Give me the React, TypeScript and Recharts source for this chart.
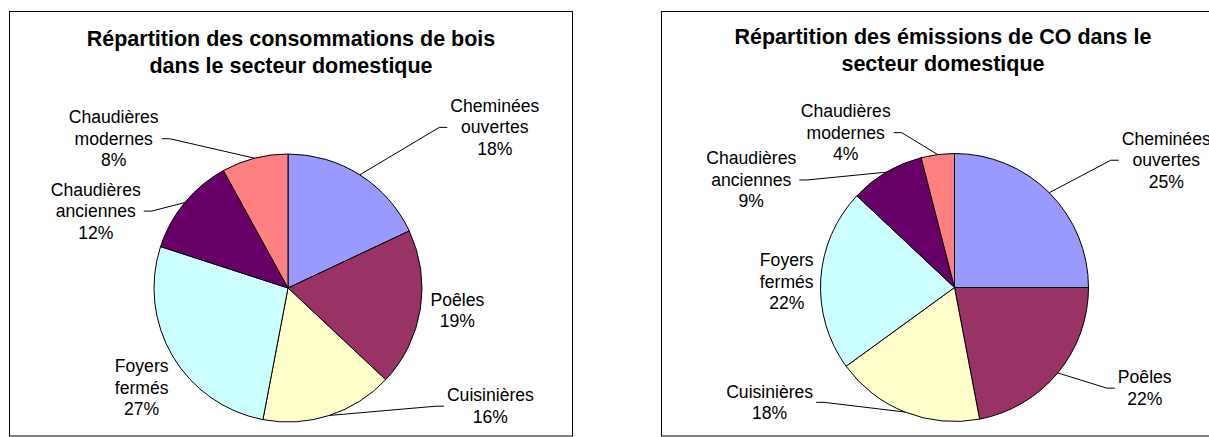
import { PieChart, Pie, Cell } from 'recharts';

// Wood use and CO emissions in the domestic sector, by appliance type (%)
const categories = [
  'Cheminées ouvertes',
  'Poêles',
  'Cuisinières',
  'Foyers fermés',
  'Chaudières anciennes',
  'Chaudières modernes',
];
const woodShares = [18, 19, 16, 27, 12, 8];
const coShares = [25, 22, 18, 22, 9, 4];

const woodTitle = ['Répartition des consommations de bois', 'dans le secteur domestique'];
const coTitle = ['Répartition des émissions de CO dans le', 'secteur domestique'];

const COLORS = ['#9999FF', '#993366', '#FFFFCC', '#CCFFFF', '#660066', '#FF8080'];

const FONT = '"Liberation Sans", Arial, sans-serif';
const LABEL_SIZE = 17.6;
const LINE = 21.5;

type Placement = { dx: number; dy: number; leader?: 'left' | 'right' };

// label offsets from the slice edge point (Excel "best fit" look)
const woodPlacement: Placement[] = [
  { dx: 135, dy: -63, leader: 'left' },
  { dx: 37, dy: -3 },
  { dx: 161, dy: -14, leader: 'left' },
  { dx: -31, dy: 16 },
  { dx: -89, dy: -7, leader: 'right' },
  { dx: -141, dy: -35, leader: 'right' },
];
const coPlacement: Placement[] = [
  { dx: 117, dy: -48, leader: 'left' },
  { dx: 87, dy: 10.5, leader: 'left' },
  { dx: -135.5, dy: -14.5, leader: 'right' },
  { dx: -34, dy: -13 },
  { dx: -135, dy: -7.7, leader: 'right' },
  { dx: -92, dy: -37.4, leader: 'right' },
];

let ctx: CanvasRenderingContext2D | null = null;
function textWidth(s: string) {
  if (!ctx) ctx = document.createElement('canvas').getContext('2d');
  if (!ctx) return s.length * LABEL_SIZE * 0.55;
  ctx.font = `${LABEL_SIZE}px ${FONT}`;
  return ctx.measureText(s).width;
}

function makeLabel(placement: Placement[]) {
  return (props: any) => {
    const { cx, cy, midAngle, outerRadius, percent, index } = props;
    const name: string = props.payload?.name ?? props.name;
    const rad = Math.PI / 180;
    const ex = cx + outerRadius * Math.cos(-midAngle * rad);
    const ey = cy + outerRadius * Math.sin(-midAngle * rad);
    const p = placement[index];
    const lx = ex + p.dx;
    const ly = ey + p.dy;
    const lines = [...name.split(' '), `${Math.round(percent * 100)}%`];
    const half = Math.max(...lines.map(textWidth)) / 2;

    let leader = null;
    if (p.leader) {
      const my = ly - 6 + ((lines.length - 1) * LINE) / 2;
      const sx = p.leader === 'left' ? lx - half - 3 : lx + half + 3;
      const tx = p.leader === 'left' ? sx - 8 : sx + 8;
      leader = (
        <polyline
          points={`${sx},${my} ${tx},${my} ${ex},${ey}`}
          fill="none"
          stroke="#000"
          strokeWidth={1}
        />
      );
    }

    return (
      <g key={`label-${index}`}>
        {leader}
        <text
          x={lx}
          y={ly}
          textAnchor="middle"
          fill="#000"
          style={{ fontFamily: FONT, fontSize: LABEL_SIZE }}
        >
          {lines.map((l, i) => (
            <tspan key={i} x={lx} dy={i === 0 ? 0 : LINE}>
              {l}
            </tspan>
          ))}
        </text>
      </g>
    );
  };
}

function SharePie({
  values,
  placement,
  cx,
  cy,
}: {
  values: number[];
  placement: Placement[];
  cx: number;
  cy: number;
}) {
  const data = categories.map((name, i) => ({ name, value: values[i] }));
  return (
    <PieChart width={564} height={425} margin={{ top: 0, right: 0, bottom: 0, left: 0 }}>
      <Pie
        data={data}
        dataKey="value"
        nameKey="name"
        cx={cx}
        cy={cy}
        outerRadius={134}
        startAngle={90}
        endAngle={-270}
        stroke="#000"
        strokeWidth={1}
        labelLine={false}
        label={makeLabel(placement)}
        isAnimationActive={false}
      >
        {data.map((_, i) => (
          <Cell key={`cell-${i}`} fill={COLORS[i]} />
        ))}
      </Pie>
    </PieChart>
  );
}

export default function App() {
  const titleStyle = { fontFamily: FONT, fontSize: 21.5, fontWeight: 700 } as const;
  return (
    <div
      style={{
        position: 'absolute',
        left: 0,
        top: 0,
        width: 1209,
        height: 437,
        overflow: 'hidden',
        background: '#fff',
      }}
    >
      <div style={{ position: 'absolute', left: 9, top: 11 }}>
        <SharePie values={woodShares} placement={woodPlacement} cx={279} cy={277} />
      </div>
      <div style={{ position: 'absolute', left: 661, top: 11 }}>
        <SharePie values={coShares} placement={coPlacement} cx={293.5} cy={276.5} />
      </div>
      <svg
        width={1209}
        height={437}
        style={{ position: 'absolute', left: 0, top: 0, pointerEvents: 'none' }}
      >
        <rect x={9.5} y={11.5} width={563} height={424.5} fill="none" stroke="#000" />
        <rect x={661.5} y={11.5} width={563} height={424.5} fill="none" stroke="#000" />
        <text x={291} y={46} textAnchor="middle" style={titleStyle}>
          <tspan x={291}>{woodTitle[0]}</tspan>
          <tspan x={291} dy={27}>{woodTitle[1]}</tspan>
        </text>
        <text x={943} y={44} textAnchor="middle" style={titleStyle}>
          <tspan x={943}>{coTitle[0]}</tspan>
          <tspan x={943} dy={27}>{coTitle[1]}</tspan>
        </text>
      </svg>
    </div>
  );
}
